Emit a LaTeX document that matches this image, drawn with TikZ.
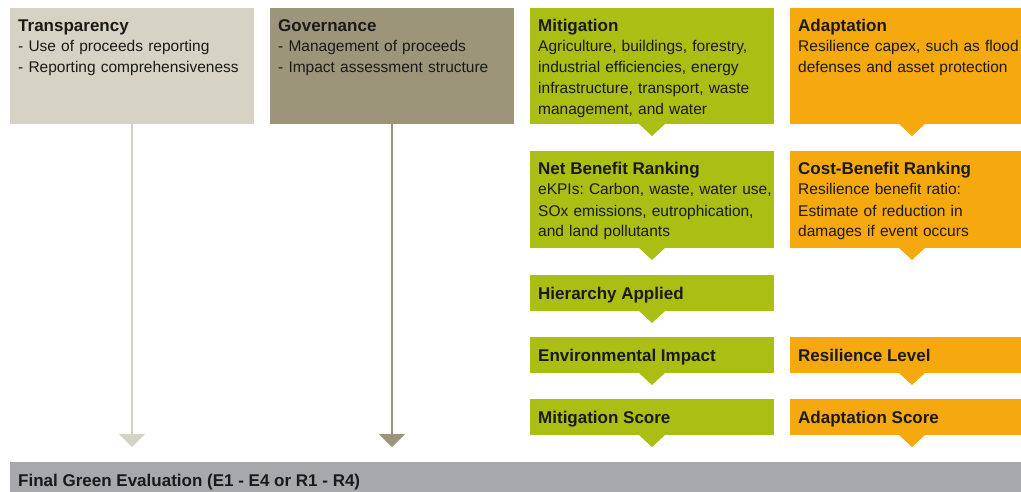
\documentclass[tikz,border=0pt]{standalone}
\usepackage{fontspec}
\setmainfont{Liberation Sans}
\usetikzlibrary{arrows.meta}
\frenchspacing

\definecolor{transp}{HTML}{D6D3C4}
\definecolor{govern}{HTML}{9C957A}
\definecolor{mitig}{HTML}{AABE13}
\definecolor{adapt}{HTML}{F6A90E}
\definecolor{finalbar}{HTML}{A7A8AC}
\definecolor{ink}{HTML}{1A1A1A}

\begin{document}
\begin{tikzpicture}[x=1pt,y=-1pt,
  panel/.style={fill=#1, anchor=north west, inner sep=0pt, outer sep=0pt,
                minimum width=244pt},
  ttl/.style={anchor=base west, inner sep=0pt, text=ink,
              font=\fontsize{17}{21}\selectfont\bfseries},
  body/.style={anchor=base west, inner sep=0pt, align=left, text=ink,
               text width=300pt, font=\fontsize{15.5}{21}\selectfont},
  flow/.style={draw=#1, line width=2pt, shorten >=15pt,
               -{Triangle[width=26pt,length=13pt,color=#1]}},
]
\useasboundingbox (0,0) rectangle (1021,492);
\clip (0,0) rectangle (1021,492);

% pointer under a panel
\newcommand\pointer[2]{%
  \fill[#2] ([xshift=-13pt]#1.south) -- ([xshift=13pt]#1.south)
            -- ([yshift=-12pt]#1.south) -- cycle;}

% --- panels ---
\node[panel=transp, minimum height=116pt] (tr)  at (10,8)   {};
\node[panel=govern, minimum height=116pt] (gov) at (270,8)  {};
\node[panel=mitig,  minimum height=116pt] (mit) at (530,8)  {};
\node[panel=adapt,  minimum height=116pt] (ada) at (790,8)  {};
\node[panel=mitig,  minimum height=97pt]  (nbr) at (530,151) {};
\node[panel=adapt,  minimum height=97pt]  (cbr) at (790,151) {};
\node[panel=mitig,  minimum height=36pt]  (hie) at (530,275) {};
\node[panel=mitig,  minimum height=36pt]  (env) at (530,337) {};
\node[panel=adapt,  minimum height=36pt]  (res) at (790,337) {};
\node[panel=mitig,  minimum height=36pt]  (msc) at (530,399) {};
\node[panel=adapt,  minimum height=36pt]  (asc) at (790,399) {};
\node[panel=finalbar, minimum width=1030pt, minimum height=40pt] (fin) at (10,462) {};

% --- pointers ---
\pointer{mit}{mitig}
\pointer{ada}{adapt}
\pointer{nbr}{mitig}
\pointer{cbr}{adapt}
\pointer{hie}{mitig}
\pointer{env}{mitig}
\pointer{res}{adapt}
\pointer{msc}{mitig}
\pointer{asc}{adapt}

% --- texts ---
\node[ttl]  (trT) at ([xshift=8pt,yshift=-24pt]tr.north west) {Transparency};
\node[body] (trB) at ([xshift=8pt,yshift=-44pt]tr.north west)
  {- Use of proceeds reporting\\- Reporting comprehensiveness};

\node[ttl]  (govT) at ([xshift=8pt,yshift=-24pt]gov.north west) {Governance};
\node[body] (govB) at ([xshift=8pt,yshift=-44pt]gov.north west)
  {- Management of proceeds\\- Impact assessment structure};

\node[ttl]  (mitT) at ([xshift=8pt,yshift=-24pt]mit.north west) {Mitigation};
\node[body] (mitB) at ([xshift=8pt,yshift=-44pt]mit.north west)
  {Agriculture, buildings, forestry,\\industrial efficiencies, energy\\infrastructure, transport, waste\\management, and water};

\node[ttl]  (adaT) at ([xshift=8pt,yshift=-24pt]ada.north west) {Adaptation};
\node[body] (adaB) at ([xshift=8pt,yshift=-44pt]ada.north west)
  {Resilience capex, such as flood\\defenses and asset protection};

\node[ttl]  (nbrT) at ([xshift=8pt,yshift=-24pt]nbr.north west) {Net Benefit Ranking};
\node[body] (nbrB) at ([xshift=8pt,yshift=-44pt]nbr.north west)
  {eKPIs: Carbon, waste, water use,\\SOx emissions, eutrophication,\\and land pollutants};

\node[ttl]  (cbrT) at ([xshift=8pt,yshift=-24pt]cbr.north west) {Cost-Benefit Ranking};
\node[body] (cbrB) at ([xshift=8pt,yshift=-44pt]cbr.north west)
  {Resilience benefit ratio:\\Estimate of reduction in\\damages if event occurs};

\node[ttl] (hieT) at ([xshift=8pt,yshift=-6pt]hie.west) {Hierarchy Applied};
\node[ttl] (envT) at ([xshift=8pt,yshift=-6pt]env.west) {Environmental Impact};
\node[ttl] (resT) at ([xshift=8pt,yshift=-6pt]res.west) {Resilience Level};
\node[ttl] (mscT) at ([xshift=8pt,yshift=-6pt]msc.west) {Mitigation Score};
\node[ttl] (ascT) at ([xshift=8pt,yshift=-6pt]asc.west) {Adaptation Score};
\node[ttl] (finT) at ([xshift=8pt,yshift=-24pt]fin.north west)
  {Final Green Evaluation (E1 - E4 or R1 - R4)};

% --- flows into the final evaluation ---
\draw[flow=transp] (tr.south) -- (tr.south |- fin.north);
\draw[flow=govern] (gov.south) -- (gov.south |- fin.north);
\end{tikzpicture}
\end{document}
